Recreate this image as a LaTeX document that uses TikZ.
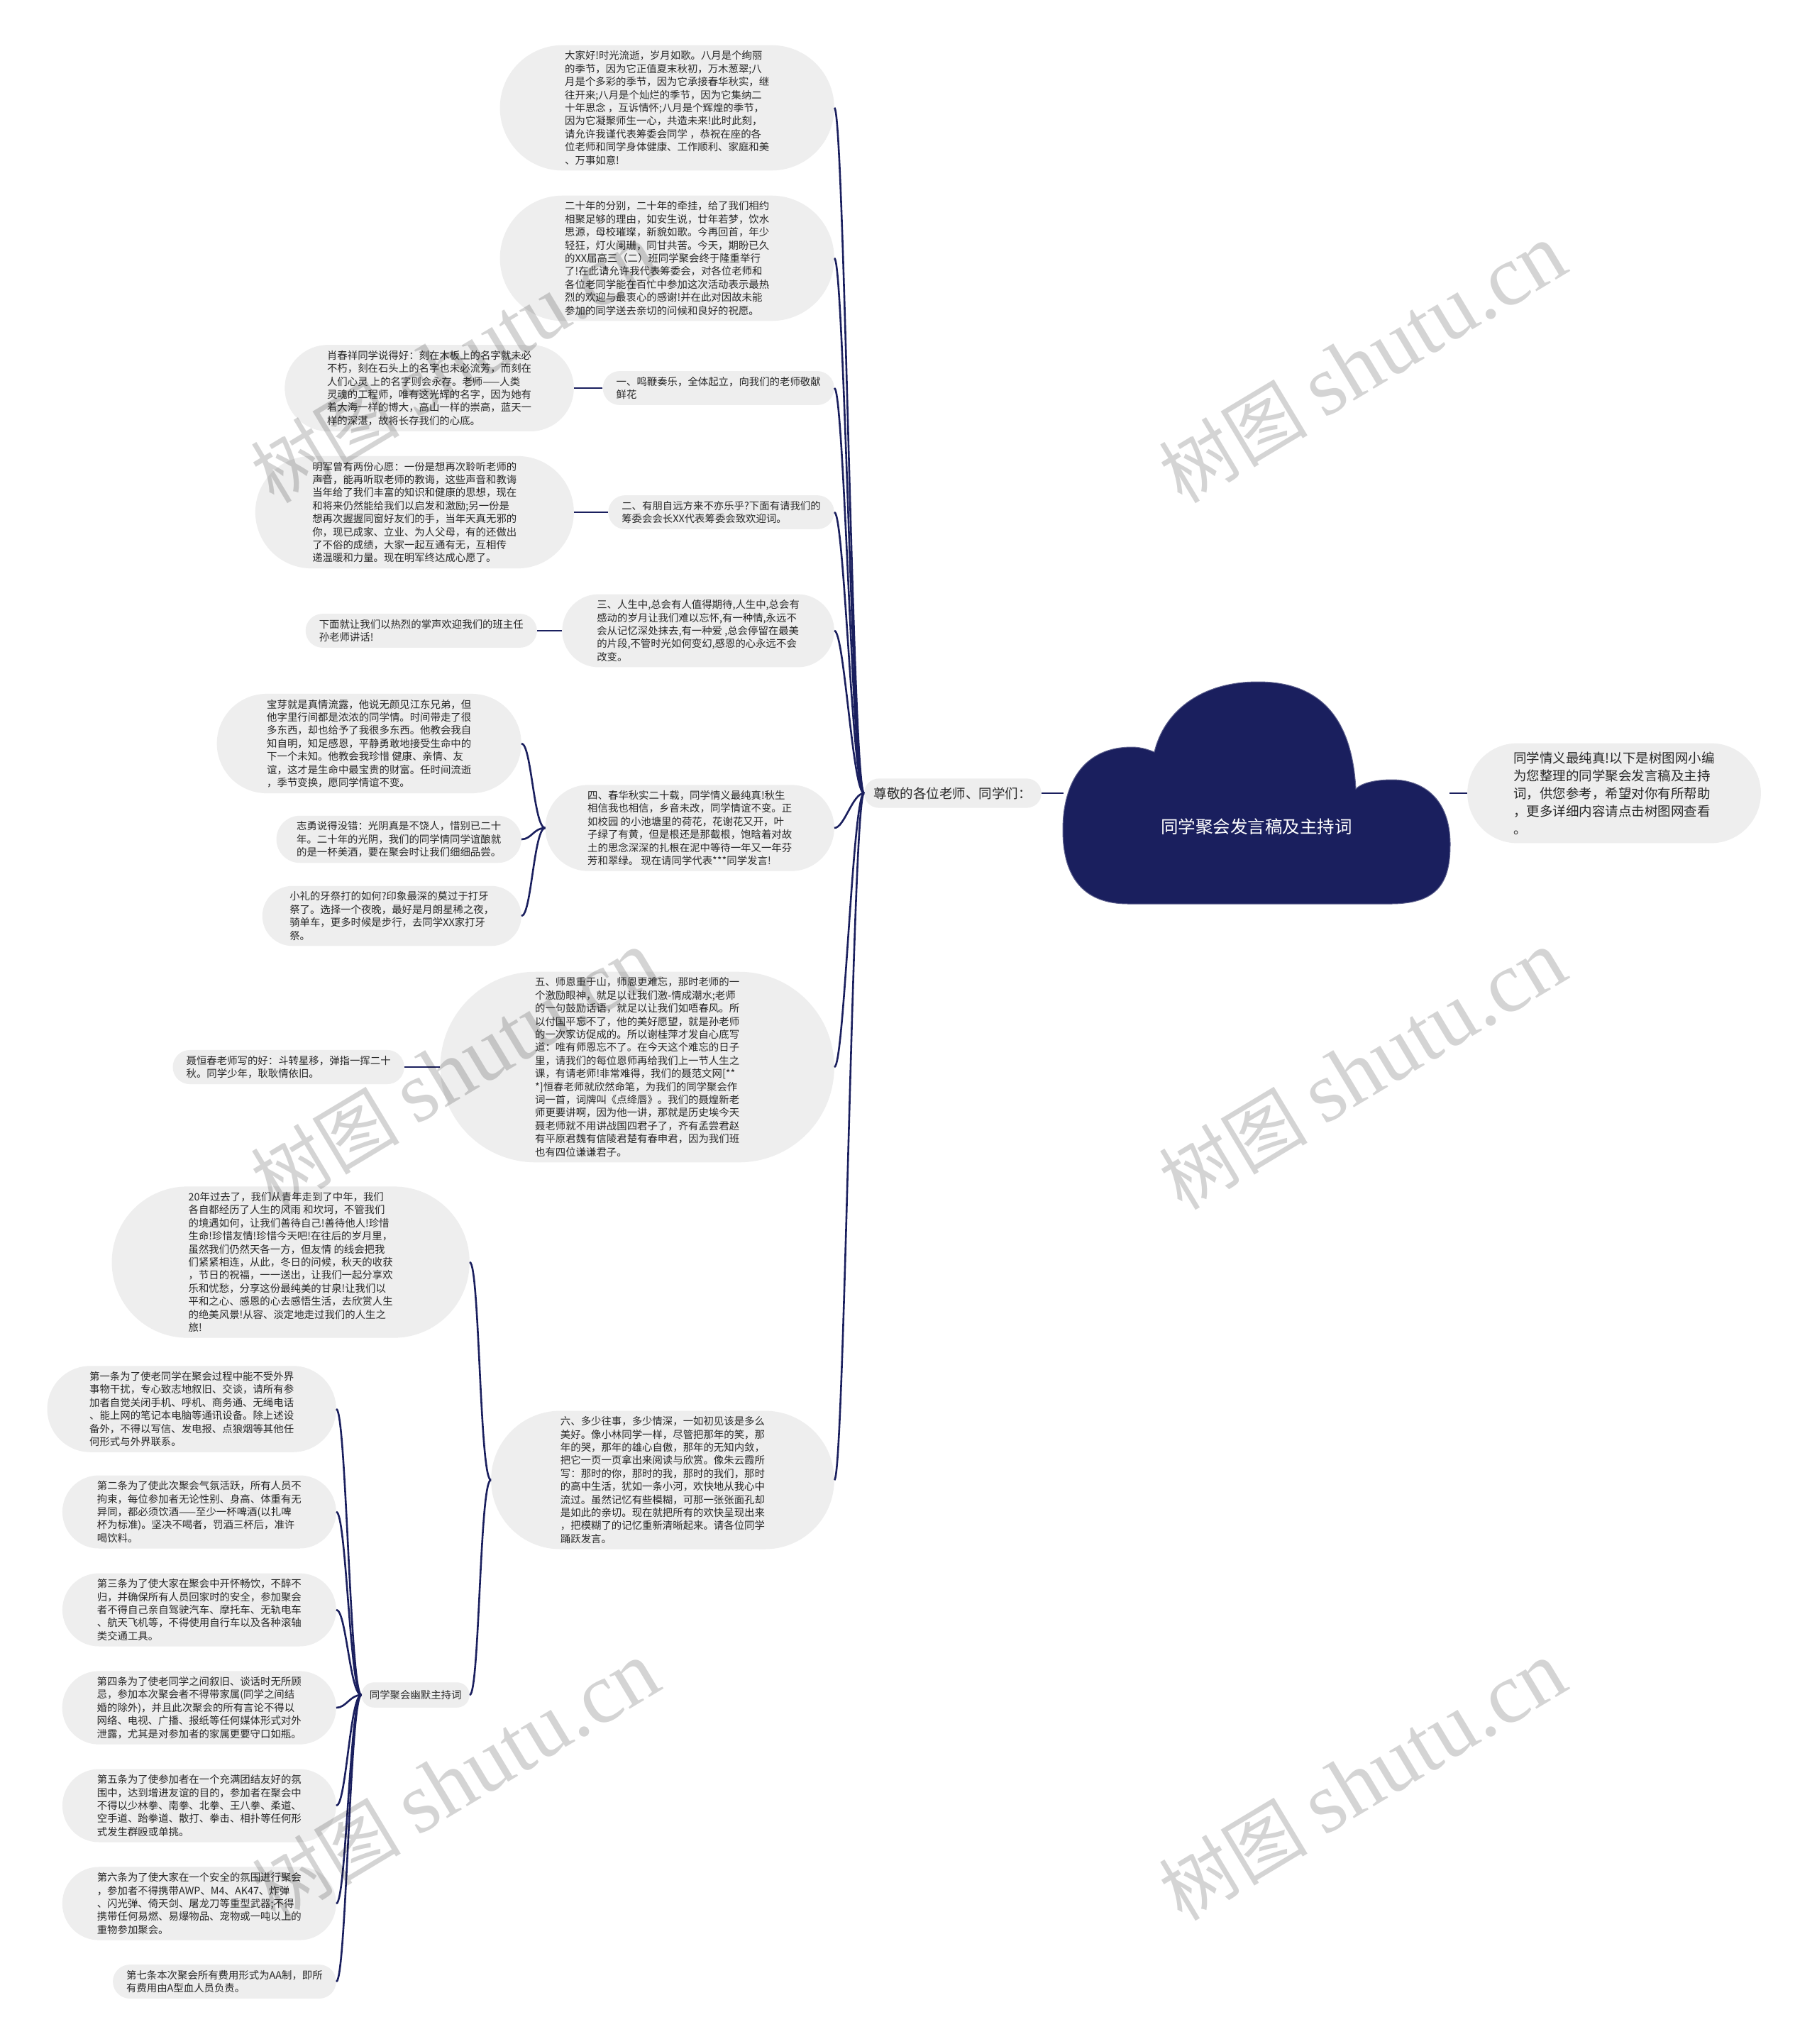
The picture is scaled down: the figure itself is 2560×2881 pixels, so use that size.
\documentclass[tikz,border=0pt]{standalone}
\usepackage{fontspec}
\newfontfamily\cjk{Noto Sans CJK SC}
\newfontfamily\wmserif{Liberation Serif}
\usetikzlibrary{shapes.misc}
\definecolor{navy}{RGB}{26,31,94}
\definecolor{bub}{RGB}{238,238,238}
\definecolor{txt}{RGB}{40,40,40}
\tikzset{
  bubble/.style={rounded rectangle, fill=bub, inner xsep=#1, inner ysep=8pt, align=left, text=txt,
    font=\cjk\fontsize{14.4}{18.4}\selectfont},
  bigbubble/.style={bubble=#1, inner ysep=12pt, font=\cjk\fontsize{18.5}{25}\selectfont},
  conn/.style={draw=navy, line width=2.6pt},
  wm/.style={rotate=31, text=black, opacity=0.17, inner sep=0pt},
}
\newcommand{\lnk}[2]{\draw[conn] (#1.west) .. controls +(-16,0) and +(14,0) .. (#2.east);}
\begin{document}
\begin{tikzpicture}[x=1pt,y=-1pt]
\fill[white] (0,0) rectangle (2560,2881);
\useasboundingbox (0,0) rectangle (2560,2881);

% cloud
\fill[navy, draw=navy!70!white, line width=1pt]
  (1590,1274) -- (1960,1274)
  .. controls (2030,1274) and (2044,1240) .. (2044,1190)
  .. controls (2044,1125) and (2005,1099) .. (1962,1099)
  .. controls (1938,1099) and (1918,1104) .. (1911,1112)
  .. controls (1905,1000) and (1850,961) .. (1773,961)
  .. controls (1690,961) and (1640,1005) .. (1627,1060)
  .. controls (1615,1055) and (1605,1053) .. (1595,1053)
  .. controls (1530,1053) and (1498,1100) .. (1498,1170)
  .. controls (1498,1240) and (1530,1274) .. (1590,1274) -- cycle;
\node[text=white, font=\cjk\fontsize{24.5}{28}\selectfont] (root) at (1771,1165) {同学聚会发言稿及主持词};
\coordinate (rootL) at (1499,1118);
\coordinate (rootR) at (2043,1118);

\node[bigbubble=12pt, anchor=east] (main) at (1468,1118) {尊敬的各位老师、同学们：};
\node[bigbubble=34pt, anchor=west] (note) at (2068,1118) {同学情义最纯真!以下是树图网小编\\为您整理的同学聚会发言稿及主持\\词，供您参考，希望对你有所帮助\\，更多详细内容请点击树图网查看\\。};
\draw[conn] (main.east) -- (rootL);
\draw[conn] (rootR) -- (note.west);

% level 2
\node[bubble=40pt, anchor=east] (c1) at (1176,152) {大家好!时光流逝，岁月如歌。八月是个绚丽\\的季节，因为它正值夏末秋初，万木葱翠;八\\月是个多彩的季节，因为它承接春华秋实，继\\往开来;八月是个灿烂的季节，因为它集纳二\\十年思念 ，互诉情怀;八月是个辉煌的季节，\\因为它凝聚师生一心，共造未来!此时此刻，\\请允许我谨代表筹委会同学 ，恭祝在座的各\\位老师和同学身体健康、工作顺利、家庭和美\\、万事如意!};
\node[bubble=40pt, anchor=east] (c2) at (1176,364) {二十年的分别，二十年的牵挂，给了我们相约\\相聚足够的理由，如安生说，廿年若梦，饮水\\思源，母校璀璨，新貌如歌。今再回首，年少\\轻狂，灯火阑珊，同甘共苦。今天，期盼已久\\的XX届高三（二）班同学聚会终于隆重举行\\了!在此请允许我代表筹委会，对各位老师和\\各位老同学能在百忙中参加这次活动表示最热\\烈的欢迎与最衷心的感谢!并在此对因故未能\\参加的同学送去亲切的问候和良好的祝愿。};
\node[bubble=13pt, anchor=east] (c3) at (1176,547) {一、鸣鞭奏乐，全体起立，向我们的老师敬献\\鲜花};
\node[bubble=29pt, anchor=east] (g3) at (809,547) {肖春祥同学说得好：刻在木板上的名字就未必\\不朽，刻在石头上的名字也未必流芳，而刻在\\人们心灵 上的名字则会永存。老师——人类\\灵魂的工程师，唯有这光辉的名字，因为她有\\着大海一样的博大，高山一样的崇高，蓝天一\\样的深湛，故将长存我们的心底。};
\node[bubble=13pt, anchor=east] (c4) at (1176,722) {二、有朋自远方来不亦乐乎?下面有请我们的\\筹委会会长XX代表筹委会致欢迎词。};
\node[bubble=36pt, anchor=east] (g4) at (809,722) {明军曾有两份心愿：一份是想再次聆听老师的\\声音，能再听取老师的教诲，这些声音和教诲\\当年给了我们丰富的知识和健康的思想，现在\\和将来仍然能给我们以启发和激励;另一份是\\想再次握握同窗好友们的手，当年天真无邪的\\你，现已成家、立业、为人父母，有的还做出\\了不俗的成绩，大家一起互通有无，互相传\\递温暖和力量。现在明军终达成心愿了。};
\node[bubble=25pt, anchor=east] (c5) at (1176,889) {三、人生中,总会有人值得期待,人生中,总会有\\感动的岁月让我们难以忘怀,有一种情,永远不\\会从记忆深处抹去,有一种爱 ,总会停留在最美\\的片段,不管时光如何变幻,感恩的心永远不会\\改变。};
\node[bubble=13pt, anchor=east] (g5) at (757,889) {下面就让我们以热烈的掌声欢迎我们的班主任\\孙老师讲话!};
\node[bubble=29pt, anchor=east] (c6) at (1176,1167) {四、春华秋实二十载，同学情义最纯真!秋生\\相信我也相信，乡音未改，同学情谊不变。正\\如校园 的小池塘里的荷花，花谢花又开，叶\\子绿了有黄，但是根还是那截根，饱晗着对故\\土的思念深深的扎根在泥中等待一年又一年芬\\芳和翠绿。 现在请同学代表***同学发言!};
\node[bubble=33pt, anchor=east] (g6a) at (735,1048) {宝芽就是真情流露，他说无颜见江东兄弟，但\\他字里行间都是浓浓的同学情。时间带走了很\\多东西，却也给予了我很多东西。他教会我自\\知自明，知足感恩，平静勇敢地接受生命中的\\下一个未知。他教会我珍惜 健康、亲情、友\\谊，这才是生命中最宝贵的财富。任时间流逝\\，季节变换，愿同学情谊不变。};
\node[bubble=17pt, anchor=east] (g6b) at (735,1183) {志勇说得没错：光阴真是不饶人，惜别已二十\\年。二十年的光阴，我们的同学情同学谊酿就\\的是一杯美酒，要在聚会时让我们细细品尝。};
\node[bubble=21pt, anchor=east] (g6c) at (735,1291) {小礼的牙祭打的如何?印象最深的莫过于打牙\\祭了。选择一个夜晚，最好是月朗星稀之夜，\\骑单车，更多时候是步行，去同学XX家打牙\\祭。};
\node[bubble=45pt, anchor=east] (c7) at (1176,1504) {五、师恩重于山，师恩更难忘，那时老师的一\\个激励眼神，就足以让我们激-情成潮水;老师\\的一句鼓励话语，就足以让我们如唔春风。所\\以付国平忘不了，他的美好愿望，就是孙老师\\的一次家访促成的。所以谢桂萍才发自心底写\\道：唯有师恩忘不了。在今天这个难忘的日子\\里，请我们的每位恩师再给我们上一节人生之\\课，有请老师!非常难得，我们的聂范文网[**\\*]恒春老师就欣然命笔，为我们的同学聚会作\\词一首，词牌叫《点绛唇》。我们的聂煌新老\\师更要讲啊，因为他一讲，那就是历史埃今天\\聂老师就不用讲战国四君子了，齐有孟尝君赵\\有平原君魏有信陵君楚有春申君，因为我们班\\也有四位谦谦君子。};
\node[bubble=13pt, anchor=east] (g7) at (570,1504) {聂恒春老师写的好：斗转星移，弹指一挥二十\\秋。同学少年，耿耿情依旧。};
\node[bubble=39pt, anchor=east] (c8) at (1176,2086) {六、多少往事，多少情深，一如初见该是多么\\美好。像小林同学一样，尽管把那年的笑，那\\年的哭，那年的雄心自傲，那年的无知内敛，\\把它一页一页拿出来阅读与欣赏。像朱云霞所\\写：那时的你，那时的我，那时的我们，那时\\的高中生活，犹如一条小河，欢快地从我心中\\流过。虽然记忆有些模糊，可那一张张面孔却\\是如此的亲切。现在就把所有的欢快呈现出来\\，把模糊了的记忆重新清晰起来。请各位同学\\踊跃发言。};
\node[bubble=42pt, anchor=east] (g8a) at (662,1779) {20年过去了，我们从青年走到了中年，我们\\各自都经历了人生的风雨 和坎坷，不管我们\\的境遇如何，让我们善待自己!善待他人!珍惜\\生命!珍惜友情!珍惜今天吧!在往后的岁月里，\\虽然我们仍然天各一方，但友情 的线会把我\\们紧紧相连，从此，冬日的问候，秋天的收获\\，节日的祝福，一一送出，让我们一起分享欢\\乐和忧愁，分享这份最纯美的甘泉!让我们以\\平和之心、感恩的心去感悟生活，去欣赏人生\\的绝美风景!从容、淡定地走过我们的人生之\\旅!};
\node[bubble=10pt, anchor=east, inner ysep=11pt] (g8b) at (662,2389) {同学聚会幽默主持词};
\node[bubble=29pt, anchor=east] (r1) at (474,1986) {第一条为了使老同学在聚会过程中能不受外界\\事物干扰，专心致志地叙旧、交谈，请所有参\\加者自觉关闭手机、呼机、商务通、无绳电话\\、能上网的笔记本电脑等通讯设备。除上述设\\备外，不得以写信、发电报、点狼烟等其他任\\何形式与外界联系。};
\node[bubble=25pt, anchor=east] (r2) at (474,2131) {第二条为了使此次聚会气氛活跃，所有人员不\\拘束，每位参加者无论性别、身高、体重有无\\异同，都必须饮酒——至少一杯啤酒(以扎啤\\杯为标准)。坚决不喝者，罚酒三杯后，准许\\喝饮料。};
\node[bubble=25pt, anchor=east] (r3) at (474,2269) {第三条为了使大家在聚会中开怀畅饮，不醉不\\归，并确保所有人员回家时的安全，参加聚会\\者不得自己亲自驾驶汽车、摩托车、无轨电车\\、航天飞机等，不得使用自行车以及各种滚轴\\类交通工具。};
\node[bubble=25pt, anchor=east] (r4) at (474,2407) {第四条为了使老同学之间叙旧、谈话时无所顾\\忌，参加本次聚会者不得带家属(同学之间结\\婚的除外)，并且此次聚会的所有言论不得以\\网络、电视、广播、报纸等任何媒体形式对外\\泄露，尤其是对参加者的家属更要守口如瓶。};
\node[bubble=25pt, anchor=east] (r5) at (474,2545) {第五条为了使参加者在一个充满团结友好的氛\\围中，达到增进友谊的目的，参加者在聚会中\\不得以少林拳、南拳、北拳、王八拳、柔道、\\空手道、跆拳道、散打、拳击、相扑等任何形\\式发生群殴或单挑。};
\node[bubble=25pt, anchor=east] (r6) at (474,2683) {第六条为了使大家在一个安全的氛围进行聚会\\，参加者不得携带AWP、M4、AK47、炸弹\\、闪光弹、倚天剑、屠龙刀等重型武器;不得\\携带任何易燃、易爆物品、宠物或一吨以上的\\重物参加聚会。};
\node[bubble=13pt, anchor=east] (r7) at (474,2793) {第七条本次聚会所有费用形式为AA制，即所\\有费用由A型血人员负责。};

% connectors
\foreach \c in {c1,c2,c3,c4,c5,c6,c7,c8} {\lnk{main}{\c}}
\lnk{c3}{g3}
\lnk{c4}{g4}
\lnk{c5}{g5}
\foreach \c in {g6a,g6b,g6c} {\lnk{c6}{\c}}
\lnk{c7}{g7}
\lnk{c8}{g8a}
\lnk{c8}{g8b}
\foreach \c in {r1,r2,r3,r4,r5,r6,r7} {\lnk{g8b}{\c}}

% watermarks
\foreach \n/\x/\y in {w1/640/512, w2/1920/512, w3/640/1508, w4/1920/1508, w5/642/2510, w6/1920/2510} {
  \node[wm] (\n) at (\x,\y) {\cjk\fontsize{105}{115}\selectfont 树图 \wmserif\fontsize{121}{125}\selectfont shutu.cn};
}
\end{tikzpicture}
\end{document}
